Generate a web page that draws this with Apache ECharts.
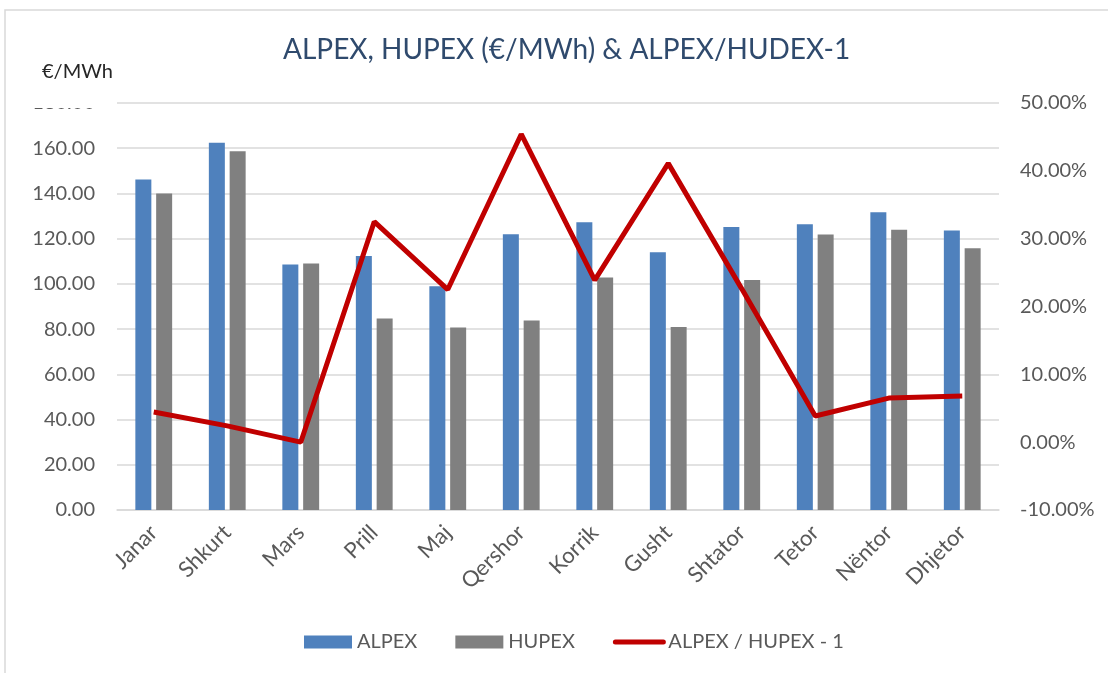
<!DOCTYPE html>
<html>
<head>
<meta charset="utf-8">
<script src="https://cdn.jsdelivr.net/npm/echarts@6/dist/echarts.min.js"></script>
<style>
  html, body { margin: 0; padding: 0; background: #fff; }
  #chart { width: 1108px; height: 673px; }
</style>
</head>
<body>
<div id="chart"></div>
<script>
// months (Albanian)
const months = ["Janar", "Shkurt", "Mars", "Prill", "Maj", "Qershor", "Korrik", "Gusht", "Shtator", "Tetor", "Nëntor", "Dhjetor"];
// €/MWh
const alpex = [146.2, 162.4, 108.6, 112.3, 99.0, 122.0, 127.3, 114.0, 125.2, 126.4, 131.7, 123.6];
const hupex = [140.0, 158.7, 109.0, 84.7, 80.7, 83.8, 102.8, 80.9, 101.7, 121.8, 123.9, 115.8];
// ALPEX / HUPEX - 1, in %
const ratio = [4.45, 2.4, 0.0, 32.5, 22.5, 45.4, 23.9, 41.1, 22.6, 3.85, 6.5, 6.8];

const font = "Lato";
const labelColor = "#595959";
const gridColor = "#D9D9D9";

const chart = echarts.init(document.getElementById("chart"));
chart.setOption({
  animation: false,
  textStyle: { fontFamily: font },
  title: {
    text: "ALPEX, HUPEX (€/MWh) & ALPEX/HUDEX-1",
    left: 278,
    top: 31,
    textStyle: { fontFamily: font, fontSize: 28, fontWeight: "normal", color: "#2F4A6D" }
  },
  grid: { left: 117, right: 109, top: 103, bottom: 163 },
  legend: {
    bottom: 16,
    left: 299,
    itemWidth: 48,
    itemHeight: 13,
    itemGap: 38,
    textStyle: { fontFamily: font, fontSize: 20, color: labelColor },
    data: [
      { name: "ALPEX", icon: "rect" },
      { name: "HUPEX", icon: "rect" },
      { name: "ALPEX / HUPEX - 1", itemStyle: { opacity: 0 }, lineStyle: { width: 5, cap: "round" } }
    ]
  },
  xAxis: {
    type: "category",
    data: months,
    axisLine: { lineStyle: { color: gridColor, width: 1.5 } },
    axisTick: { show: false },
    axisLabel: { rotate: 45, fontSize: 22, color: labelColor, margin: 19, interval: 0 }
  },
  yAxis: [
    {
      type: "value",
      min: 0,
      max: 180,
      interval: 20,
      name: "€/MWh",
      nameLocation: "end",
      nameGap: 21,
      nameTextStyle: { fontFamily: font, fontSize: 20, color: "#262626", align: "right", padding: [0, 4, 0, 0] },
      axisLine: { show: false },
      axisTick: { show: false },
      splitLine: { lineStyle: { color: gridColor, width: 1.5 } },
      axisLabel: { fontSize: 20, color: labelColor, margin: 22, formatter: v => v.toFixed(2) }
    },
    {
      type: "value",
      min: -10,
      max: 50,
      interval: 10,
      axisLine: { show: false },
      axisTick: { show: false },
      splitLine: { show: false },
      axisLabel: { fontSize: 20, color: labelColor, margin: 21, formatter: v => v.toFixed(2) + "%" }
    }
  ],
  series: [
    {
      name: "ALPEX",
      type: "bar",
      data: alpex,
      barWidth: 16,
      barGap: "30%",
      itemStyle: { color: "#4F81BD" }
    },
    {
      name: "HUPEX",
      type: "bar",
      data: hupex,
      barWidth: 16,
      barGap: "30%",
      itemStyle: { color: "#808080" }
    },
    {
      name: "ALPEX / HUPEX - 1",
      type: "line",
      yAxisIndex: 1,
      data: ratio,
      symbol: "none",
      lineStyle: { color: "#C00000", width: 5 },
      itemStyle: { color: "#C00000" },
      z: 5
    }
  ],
  graphic: [
    {
      type: "rect",
      shape: { x: 5, y: 10, width: 1120, height: 680 },
      style: { fill: "none", stroke: "#D9D9D9", lineWidth: 1.5 },
      silent: true,
      z: -1
    },
    {
      // the top left tick label is cut off in the original
      type: "rect",
      shape: { x: 15, y: 84, width: 90, height: 24 },
      style: { fill: "#fff" },
      silent: true,
      z: 100
    }
  ]
});
</script>
</body>
</html>
